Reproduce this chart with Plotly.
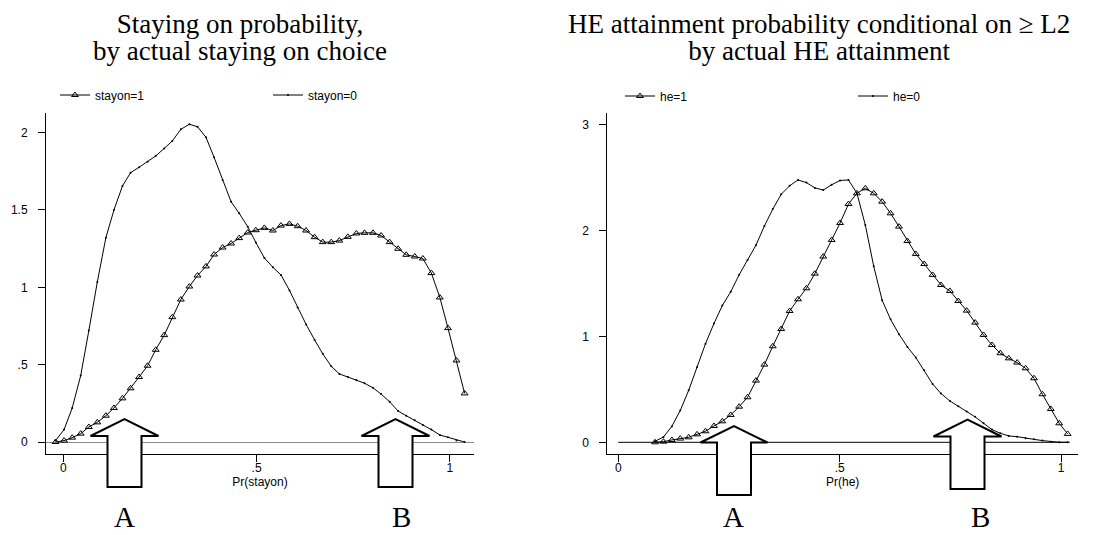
import plotly.graph_objects as go

# ---------------- data ----------------
X_STAYON = [-0.020, 0.002, 0.023, 0.045, 0.066, 0.088, 0.110, 0.131, 0.153, 0.174,
            0.196, 0.218, 0.239, 0.261, 0.282, 0.304, 0.326, 0.347, 0.369, 0.390,
            0.412, 0.434, 0.455, 0.477, 0.498, 0.520, 0.542, 0.563, 0.585, 0.606,
            0.628, 0.650, 0.671, 0.693, 0.714, 0.736, 0.758, 0.779, 0.801, 0.822,
            0.844, 0.866, 0.887, 0.909, 0.930, 0.952, 0.974, 0.995, 1.017, 1.038]
STAYON_1 = [0.000, 0.009, 0.028, 0.054, 0.097, 0.127, 0.170, 0.220, 0.282, 0.347,
            0.420, 0.493, 0.596, 0.691, 0.807, 0.921, 1.005, 1.076, 1.135, 1.212,
            1.257, 1.283, 1.318, 1.354, 1.369, 1.384, 1.367, 1.399, 1.410, 1.395,
            1.367, 1.324, 1.292, 1.292, 1.302, 1.326, 1.348, 1.352, 1.352, 1.335,
            1.292, 1.249, 1.210, 1.199, 1.186, 1.092, 0.934, 0.736, 0.527, 0.314]
STAYON_0 = [0.010, 0.080, 0.220, 0.430, 0.720, 1.035, 1.320, 1.500, 1.655, 1.741,
            1.776, 1.812, 1.849, 1.898, 1.946, 2.021, 2.054, 2.038, 1.970, 1.840,
            1.694, 1.553, 1.478, 1.392, 1.290, 1.190, 1.130, 1.080, 0.980, 0.870,
            0.760, 0.660, 0.570, 0.490, 0.440, 0.420, 0.400, 0.380, 0.350, 0.310,
            0.260, 0.200, 0.170, 0.140, 0.110, 0.080, 0.045, 0.030, 0.010, 0.000]

X_HE = [0.083, 0.102, 0.121, 0.140, 0.159, 0.178, 0.197, 0.216, 0.235, 0.254,
        0.273, 0.292, 0.311, 0.330, 0.349, 0.368, 0.387, 0.406, 0.425, 0.444,
        0.463, 0.482, 0.501, 0.520, 0.539, 0.558, 0.577, 0.596, 0.615, 0.634,
        0.653, 0.672, 0.691, 0.710, 0.729, 0.749, 0.768, 0.787, 0.806, 0.825,
        0.844, 0.863, 0.882, 0.901, 0.920, 0.939, 0.958, 0.977, 0.996, 1.015]
HE_1 = [0.000, 0.006, 0.022, 0.035, 0.047, 0.075, 0.104, 0.154, 0.198, 0.258,
        0.336, 0.425, 0.582, 0.733, 0.906, 1.069, 1.239, 1.349, 1.453, 1.591,
        1.752, 1.909, 2.069, 2.248, 2.349, 2.396, 2.349, 2.270, 2.160, 2.035,
        1.899, 1.777, 1.682, 1.579, 1.484, 1.428, 1.333, 1.242, 1.129, 1.013,
        0.918, 0.840, 0.792, 0.752, 0.698, 0.604, 0.453, 0.314, 0.179, 0.079]
HE_0 = [0.010, 0.050, 0.150, 0.300, 0.490, 0.710, 0.930, 1.120, 1.290, 1.420,
        1.580, 1.720, 1.860, 2.040, 2.200, 2.340, 2.420, 2.475, 2.450, 2.400,
        2.380, 2.430, 2.470, 2.475, 2.350, 2.050, 1.660, 1.340, 1.160, 1.020,
        0.900, 0.800, 0.680, 0.550, 0.460, 0.390, 0.340, 0.290, 0.240, 0.180,
        0.120, 0.085, 0.060, 0.053, 0.038, 0.028, 0.016, 0.006, 0.000, 0.000]

X_TICKS = [0, 0.5, 1]
X_TICK_TEXT = ["0", ".5", "1"]
Y1_TICKS = [0, 0.5, 1, 1.5, 2]
Y1_TICK_TEXT = ["0", ".5", "1", "1.5", "2"]
Y2_TICKS = [0, 1, 2, 3]
Y2_TICK_TEXT = ["0", "1", "2", "3"]

LEFT_TITLE = ["Staying on probability,", "by actual staying on choice"]
RIGHT_TITLE = ["HE attainment probability conditional on \u2265 L2", "by actual HE attainment"]

# ---------------- layout geometry ----------------
# The page body has an 8px margin, so the figure is 8px smaller than the window.
OFF = 8
W, H = 1098 - OFF, 535 - OFF
ML, MR, MT, MB = 46 - OFF, 20, 113 - OFF, 81
PW, PH = W - ML - MR, H - MT - MB


def px(xs):
    """screen x pixel -> paper fraction"""
    return (xs - OFF - ML) / PW


def py(ys):
    """screen y pixel -> paper fraction"""
    return (H - MB - (ys - OFF)) / PH


SANS = "Liberation Sans, Arial, sans-serif"
SERIF = "Liberation Serif, Times New Roman, serif"

fig = go.Figure()

tri = dict(symbol="triangle-up-open", size=6, color="black", line=dict(width=1, color="black"))
dot = dict(symbol="circle", size=2, color="black")

fig.add_trace(go.Scatter(x=X_STAYON, y=STAYON_1, mode="lines+markers", name="stayon=1",
                         line=dict(color="black", width=1), marker=tri,
                         xaxis="x", yaxis="y", legend="legend"))
fig.add_trace(go.Scatter(x=X_STAYON, y=STAYON_0, mode="lines+markers", name="stayon=0",
                         line=dict(color="black", width=1), marker=dot,
                         xaxis="x", yaxis="y", legend="legend"))
fig.add_trace(go.Scatter(x=X_HE, y=HE_1, mode="lines+markers", name="he=1",
                         line=dict(color="black", width=1), marker=tri,
                         xaxis="x2", yaxis="y2", legend="legend2"))
fig.add_trace(go.Scatter(x=X_HE, y=HE_0, mode="lines+markers", name="he=0",
                         line=dict(color="black", width=1), marker=dot,
                         xaxis="x2", yaxis="y2", legend="legend2"))

axis_common = dict(showgrid=False, showline=True, linecolor="black", linewidth=1,
                   ticks="outside", ticklen=7, tickwidth=1, tickcolor="black",
                   tickfont=dict(family=SANS, size=12, color="black"))

fig.update_layout(
    width=W, height=H,
    margin=dict(l=ML, r=MR, t=MT, b=MB, autoexpand=False),
    paper_bgcolor="white", plot_bgcolor="white",
    font=dict(family=SANS, size=12, color="black"),
    xaxis=dict(domain=[0, px(474)], range=[-0.0448, 1.0623], anchor="y",
               tickvals=X_TICKS, ticktext=X_TICK_TEXT, zeroline=False, ticklabelstandoff=-4,
               title=dict(text="Pr(stayon)", font=dict(family=SANS, size=12), standoff=2),
               **axis_common),
    yaxis=dict(domain=[0, 1], range=[-0.0776, 2.1267], anchor="x",
               tickvals=Y1_TICKS, ticktext=Y1_TICK_TEXT, ticklabelstandoff=8,
               zeroline=True, zerolinecolor="#8a8a8a", zerolinewidth=1,
               **axis_common),
    xaxis2=dict(domain=[px(607.3), 1], range=[-0.0248, 1.0384], anchor="y2",
                tickvals=X_TICKS, ticktext=X_TICK_TEXT, zeroline=False, ticklabelstandoff=-4,
                title=dict(text="Pr(he)", font=dict(family=SANS, size=12), standoff=2),
                **axis_common),
    yaxis2=dict(domain=[0, 1], range=[-0.1104, 3.1066], anchor="x2",
                tickvals=Y2_TICKS, ticktext=Y2_TICK_TEXT, ticklabelstandoff=8,
                zeroline=False, **axis_common),
    legend=dict(x=px(55), xanchor="left", y=py(95), yanchor="middle",
                orientation="h", entrywidth=168, entrywidthmode="pixels",
                bgcolor="rgba(0,0,0,0)", font=dict(family=SANS, size=12),
                traceorder="normal"),
    legend2=dict(x=px(620), xanchor="left", y=py(96), yanchor="middle",
                 orientation="h", entrywidth=188, entrywidthmode="pixels",
                 bgcolor="rgba(0,0,0,0)", font=dict(family=SANS, size=12),
                 traceorder="normal"),
    showlegend=True,
)

# horizontal reference line at zero on the right panel
fig.add_shape(type="line", xref="x2", yref="y2", x0=0, x1=1.02, y0=0, y1=0,
              line=dict(color="black", width=1), layer="below")

# block arrows (screen pixels: centre x, tip y, head base y, head half-width, shaft half-width, bottom y)
ARROWS = [
    dict(cx=124.5, tip=419, base=436, head=34, shaft=17, bottom=487),
    dict(cx=395.5, tip=419, base=436, head=34, shaft=17, bottom=487),
    dict(cx=734.0, tip=426, base=442.5, head=33.5, shaft=17, bottom=495),
    dict(cx=967.5, tip=419.5, base=436.5, head=34, shaft=17, bottom=489),
]
for a in ARROWS:
    pts = [(a["cx"] - a["shaft"], a["bottom"]), (a["cx"] - a["shaft"], a["base"]),
           (a["cx"] - a["head"], a["base"]), (a["cx"], a["tip"]),
           (a["cx"] + a["head"], a["base"]), (a["cx"] + a["shaft"], a["base"]),
           (a["cx"] + a["shaft"], a["bottom"])]
    path = "M " + " L ".join(f"{px(x):.5f},{py(y):.5f}" for x, y in pts) + " Z"
    fig.add_shape(type="path", path=path, xref="paper", yref="paper",
                  fillcolor="white", line=dict(color="black", width=2), layer="above")

# two-line panel titles: one annotation each, tight line spacing (base font 21 -> 27px lines)
def title_text(lines, size):
    return "<br>".join(f"<span style='font-size:{size}px'>{t}</span>" for t in lines)


for lines, xs, sz in [(LEFT_TITLE, 240, 27), (RIGHT_TITLE, 819, 27)]:
    fig.add_annotation(text=title_text(lines, sz), x=px(xs), y=py(OFF), xref="paper", yref="paper",
                       xanchor="center", yanchor="top", showarrow=False, align="center",
                       borderpad=0, font=dict(family=SERIF, size=21, color="black"))

# A / B labels (screen pixel centres)
LABELS = [("A", 124, 517), ("B", 401, 517), ("A", 733, 517), ("B", 980, 517)]
for txt, xs, ys in LABELS:
    fig.add_annotation(text=txt, x=px(xs), y=py(ys), xref="paper", yref="paper",
                       xanchor="center", yanchor="middle", showarrow=False, borderpad=0,
                       font=dict(family=SERIF, size=29, color="black"))

fig.write_html("out.html")
